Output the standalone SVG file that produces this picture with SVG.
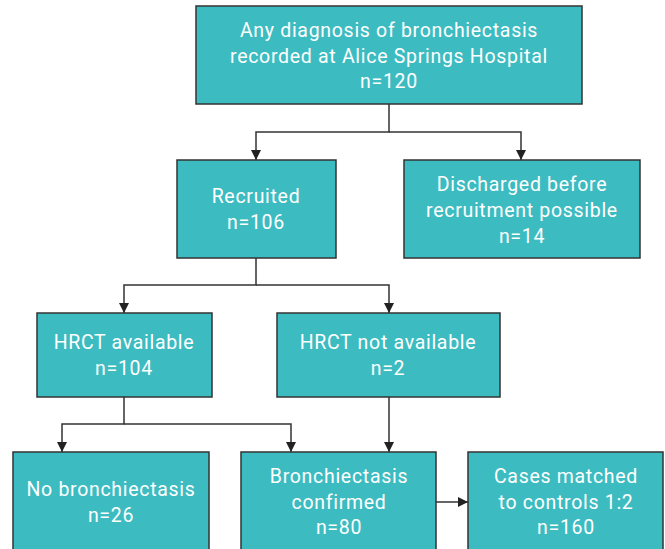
<svg xmlns="http://www.w3.org/2000/svg" width="665" height="549" viewBox="0 0 665 549">
<style>
.box{fill:#3cbcc1;stroke:#333;stroke-width:1.5}
.t{font-family:Roboto,"Liberation Sans",sans-serif;font-size:19.5px;letter-spacing:0.7px;fill:#fff;text-anchor:middle}
.c{fill:none;stroke:#333;stroke-width:1.5}
</style>
<defs>
<marker id="a" viewBox="0 0 10 10" refX="10" refY="5" markerWidth="10" markerHeight="10" markerUnits="userSpaceOnUse" orient="auto">
<path d="M0,0L10,5L0,10z" fill="#222"/>
</marker>
</defs>
<g id="connectors">
<path class="c" d="M389,104V132H256V160" marker-end="url(#a)"/>
<path class="c" d="M389,132H521V160" marker-end="url(#a)"/>
<path class="c" d="M256,258V285H124V313" marker-end="url(#a)"/>
<path class="c" d="M256,285H389V313" marker-end="url(#a)"/>
<path class="c" d="M124,397V424H62V452" marker-end="url(#a)"/>
<path class="c" d="M124,424H291V452" marker-end="url(#a)"/>
<path class="c" d="M389,397V452" marker-end="url(#a)"/>
<path class="c" d="M436,502H468" marker-end="url(#a)"/>
</g>
<g id="n1"><rect class="box" x="196" y="6" width="386" height="98"/>
<text class="t" x="389" y="37">Any diagnosis of bronchiectasis</text>
<text class="t" x="389" y="63">recorded at Alice Springs Hospital</text>
<text class="t" x="389" y="88">n=120</text></g>
<g id="n2"><rect class="box" x="177" y="160" width="159" height="98"/>
<text class="t" x="256" y="203">Recruited</text>
<text class="t" x="256" y="229">n=106</text></g>
<g id="n3"><rect class="box" x="404" y="160" width="236" height="98"/>
<text class="t" x="522" y="191">Discharged before</text>
<text class="t" x="522" y="217">recruitment possible</text>
<text class="t" x="522" y="243">n=14</text></g>
<g id="n4"><rect class="box" x="37" y="313" width="175" height="84"/>
<text class="t" x="124" y="349">HRCT available</text>
<text class="t" x="124" y="375">n=104</text></g>
<g id="n5"><rect class="box" x="277" y="313" width="223" height="84"/>
<text class="t" x="388" y="349">HRCT not available</text>
<text class="t" x="388" y="375">n=2</text></g>
<g id="n6"><rect class="box" x="13" y="452" width="196" height="110"/>
<text class="t" x="111" y="496">No bronchiectasis</text>
<text class="t" x="111" y="522">n=26</text></g>
<g id="n7"><rect class="box" x="241" y="452" width="195" height="110"/>
<text class="t" x="339" y="483">Bronchiectasis</text>
<text class="t" x="339" y="509">confirmed</text>
<text class="t" x="339" y="534">n=80</text></g>
<g id="n8"><rect class="box" x="468" y="452" width="195" height="110"/>
<text class="t" x="566" y="483">Cases matched</text>
<text class="t" x="566" y="509">to controls 1:2</text>
<text class="t" x="566" y="534">n=160</text></g>
</svg>
